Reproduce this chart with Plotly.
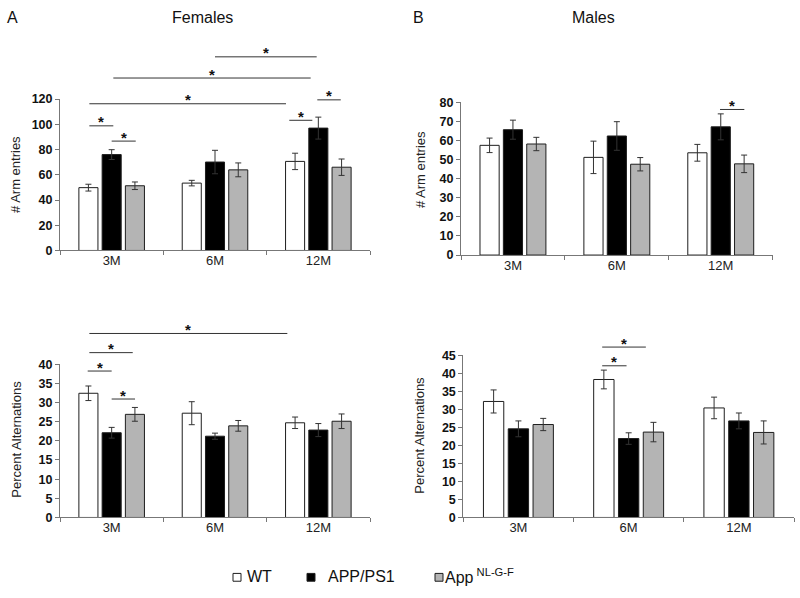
import plotly.graph_objects as go

W, H = 800, 598
FONT = "Arial, Liberation Sans, sans-serif"

ages = ["3M", "6M", "12M"]
groups = ["WT", "APP/PS1", "App <sup>NL-G-F</sup>"]
colors = ["#ffffff", "#000000", "#b4b4b4"]

# rows = genotype (WT, APP/PS1, App NL-G-F), columns = age (3M, 6M, 12M)
fem_arm = [[49.8, 53.4, 70.6], [76.0, 70.1, 97.0], [51.3, 63.9, 66.0]]
fem_arm_err = [[2.7, 2.2, 6.5], [3.9, 9.3, 8.7], [3.0, 5.5, 6.5]]
male_arm = [[57.5, 51.2, 53.6], [65.7, 62.4, 67.2], [58.2, 47.6, 47.8]]
male_arm_err = [[3.8, 8.5, 4.4], [5.0, 7.5, 6.8], [3.5, 3.5, 4.6]]
fem_alt = [[32.4, 27.2, 24.7], [22.1, 21.2, 22.8], [26.9, 23.9, 25.1]]
fem_alt_err = [[1.9, 3.0, 1.5], [1.4, 0.8, 1.7], [1.8, 1.4, 1.9]]
male_alt = [[32.2, 38.3, 30.4], [24.6, 21.9, 26.8], [25.8, 23.7, 23.6]]
male_alt_err = [[3.2, 2.6, 3.0], [2.2, 1.6, 2.2], [1.7, 2.7, 3.2]]

# significance brackets: (x-start, x-end in category units, height in data units)
sig_fem_arm = [(-0.216, 1.687, 116.3), (0.016, 1.926, 136.7), (1.0, 1.984, 153.5),
               (-0.216, 0.016, 98.8), (0.0, 0.233, 86.7), (1.719, 1.942, 103.2),
               (1.990, 2.217, 119.4)]
sig_male_arm = [(1.993, 2.227, 76.3)]
sig_fem_alt = [(-0.216, 1.700, 48.0), (-0.216, 0.204, 43.0), (-0.232, 0.0, 38.2),
               (0.0, 0.226, 30.9)]
sig_male_alt = [(0.760, 1.156, 47.3), (0.760, 0.981, 42.1)]


def px_x(p):
    return p / W


def px_y(p):
    return 1 - p / H


panels = [
    dict(n="", data=fem_arm, err=fem_arm_err, sig=sig_fem_arm,
         xd=[px_x(60), px_x(370)], yd=[px_y(249.3), px_y(94.3)],
         ymax=120, dtick=20, title="# Arm entries", tx=16, ty=172),
    dict(n="2", data=male_arm, err=male_arm_err, sig=sig_male_arm,
         xd=[px_x(461), px_x(772.7)], yd=[px_y(254), px_y(97.7)],
         ymax=80, dtick=10, title="# Arm entries", tx=420, ty=167),
    dict(n="3", data=fem_alt, err=fem_alt_err, sig=sig_fem_alt,
         xd=[px_x(60), px_x(370)], yd=[px_y(522.7), px_y(365.7)],
         ymax=40, dtick=5, title="Percent Alternations", tx=17, ty=443),
    dict(n="4", data=male_alt, err=male_alt_err, sig=sig_male_alt,
         xd=[px_x(463.3), px_x(794)], yd=[px_y(522.7), px_y(356.7)],
         ymax=45, dtick=5, title="Percent Alternations", tx=420, ty=439),
]

fig = go.Figure()
shapes = []
annotations = []
layout = {}

for p in panels:
    xa, ya = "x" + p["n"], "y" + p["n"]
    for g in range(3):
        fig.add_trace(go.Bar(
            x=ages, y=p["data"][g], name=groups[g],
            xaxis=xa, yaxis=ya, offsetgroup=str(g), showlegend=False,
            marker=dict(color=colors[g], line=dict(color="#1e1e1e", width=1)),
            error_y=dict(type="data", array=p["err"][g], color="#333333",
                         thickness=1, width=3),
        ))
    layout["xaxis" + p["n"]] = dict(
        domain=p["xd"], anchor=ya, type="category",
        showline=True, linecolor="#777777", linewidth=1,
        ticks="outside", tickson="boundaries", ticklen=4, tickcolor="#777777",
        showgrid=False, zeroline=False, ticklabelstandoff=-2,
        tickfont=dict(family=FONT, size=13, color="#222222"),
    )
    layout["yaxis" + p["n"]] = dict(
        domain=p["yd"], anchor=xa, range=[0, p["ymax"]], dtick=p["dtick"],
        showline=True, linecolor="#777777", linewidth=1,
        ticks="outside", ticklen=4, tickcolor="#777777",
        showgrid=False, zeroline=False,
        tickprefix="<b>", ticksuffix="</b>",
        tickfont=dict(family=FONT, size=12.5, color="#111111"),
    )
    annotations.append(dict(
        text=p["title"], xref="paper", yref="paper",
        x=px_x(p["tx"]), y=px_y(p["ty"]), xanchor="center", yanchor="middle",
        textangle=-90, showarrow=False,
        font=dict(family=FONT, size=13, color="#222222"),
    ))
    for (c0, c1, v) in p["sig"]:
        x0 = (c0 + 0.5) / 3
        x1 = (c1 + 0.5) / 3
        yv = v / p["ymax"]
        shapes.append(dict(type="line", xref=xa + " domain", yref=ya + " domain",
                           x0=x0, x1=x1, y0=yv, y1=yv,
                           line=dict(color="#333333", width=1)))
        annotations.append(dict(
            text="<b>*</b>", xref=xa + " domain", yref=ya + " domain",
            x=(x0 + x1) / 2, y=yv, xanchor="center", yanchor="middle",
            yshift=4, showarrow=False,
            font=dict(family=FONT, size=15, color="#111111"),
        ))

# panel headings
for txt, x in [("A", 12), ("Females", 203), ("B", 418), ("Males", 593)]:
    annotations.append(dict(text=txt, xref="paper", yref="paper",
                            x=px_x(x), y=px_y(11), xanchor="center",
                            yanchor="middle", showarrow=False,
                            font=dict(family=FONT, size=16, color="#111111")))

# legend (drawn manually)
leg_sq = [233, 307, 435]
leg_tx = [245, 326, 443]
for g in range(3):
    shapes.append(dict(type="rect", xref="paper", yref="paper",
                       x0=px_x(leg_sq[g]), x1=px_x(leg_sq[g] + 8),
                       y0=px_y(588), y1=px_y(580),
                       fillcolor=colors[g], line=dict(color="#1e1e1e", width=1)))
    annotations.append(dict(text=groups[g].replace(" <sup>", "<sup> "), xref="paper", yref="paper",
                            x=px_x(leg_tx[g]), y=px_y(583), xanchor="left",
                            yanchor="middle", showarrow=False,
                            font=dict(family=FONT, size=16, color="#111111")))

fig.update_layout(
    width=W, height=H, margin=dict(l=0, r=0, t=0, b=0),
    paper_bgcolor="white", plot_bgcolor="white",
    barmode="group", bargap=0.325, bargroupgap=0.18,
    shapes=shapes, annotations=annotations, showlegend=False,
    font=dict(family=FONT),
    **layout,
)

fig.write_html(
    "out.html",
    config={"displayModeBar": False},
    post_script=(
        "document.documentElement.style.overflow='hidden';"
        "document.body.style.margin='0';"
        "var d=document.getElementById('{plot_id}');"
        "d.style.position='fixed';d.style.left='0px';d.style.top='0px';"
    ),
)
